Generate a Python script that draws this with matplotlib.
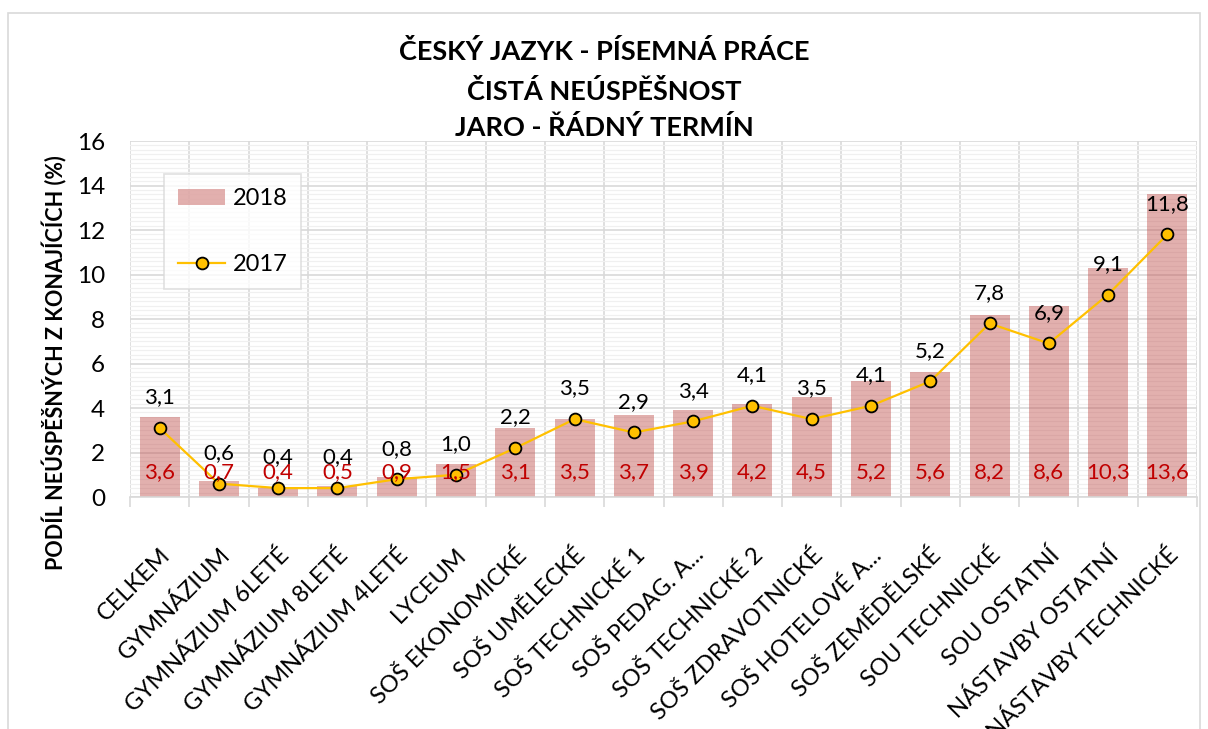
import numpy as np
import matplotlib.pyplot as plt
from matplotlib.patches import Rectangle
from matplotlib.ticker import MultipleLocator

plt.rcParams['font.family'] = ['Lato', 'DejaVu Sans']

categories = ['CELKEM', 'GYMNÁZIUM', 'GYMNÁZIUM 6LETÉ', 'GYMNÁZIUM 8LETÉ',
              'GYMNÁZIUM 4LETÉ', 'LYCEUM', 'SOŠ EKONOMICKÉ', 'SOŠ UMĚLECKÉ',
              'SOŠ TECHNICKÉ 1', 'SOŠ PEDAG. A...', 'SOŠ TECHNICKÉ 2',
              'SOŠ ZDRAVOTNICKÉ', 'SOŠ HOTELOVÉ A...', 'SOŠ ZEMĚDĚLSKÉ',
              'SOU TECHNICKÉ', 'SOU OSTATNÍ', 'NÁSTAVBY OSTATNÍ',
              'NÁSTAVBY TECHNICKÉ']
values_2018 = [3.6, 0.7, 0.4, 0.5, 0.9, 1.5, 3.1, 3.5, 3.7, 3.9, 4.2,
               4.5, 5.2, 5.6, 8.2, 8.6, 10.3, 13.6]
values_2017 = [3.1, 0.6, 0.4, 0.4, 0.8, 1.0, 2.2, 3.5, 2.9, 3.4, 4.1,
               3.5, 4.1, 5.2, 7.8, 6.9, 9.1, 11.8]


def fmt(v):
    return f'{v:.1f}'.replace('.', ',')


fig = plt.figure(figsize=(12.08, 7.29), dpi=100)
# outer chart frame
fig.patches.append(Rectangle((8 / 1208, -0.05), 1192 / 1208, 1 - 13 / 729 + 0.05,
                             transform=fig.transFigure, fill=False,
                             edgecolor='#D9D9D9', linewidth=1.2))

ax = fig.add_axes([130 / 1208, 1 - 497 / 729, 1067 / 1208, 356 / 729])
x = np.arange(len(categories))

ax.bar(x, values_2018, width=0.675, color='#C0504D', alpha=0.45, zorder=2,
       label='2018')
ax.plot(x, values_2017, color='#FFC000', linewidth=1.6, marker='o',
        markersize=8.5, markerfacecolor='#FFC000', markeredgecolor='black',
        markeredgewidth=1.3, zorder=4, label='2017')

for xi, v in zip(x, values_2018):
    ax.text(xi, 1.1, fmt(v), ha='center', va='center', color='#C00000',
            fontsize=16, zorder=5)
for xi, v in zip(x, values_2017):
    ax.annotate(fmt(v), (xi, v), xytext=(0, 22), textcoords='offset points',
                ha='center', va='center', fontsize=16, color='black', zorder=5)

ax.set_xlim(-0.5, len(categories) - 0.5)
ax.set_ylim(0, 16)
ax.yaxis.set_major_locator(MultipleLocator(2))
ax.yaxis.set_minor_locator(MultipleLocator(0.2))
ax.grid(axis='y', which='major', color='#D9D9D9', linewidth=1.2, zorder=0)
ax.grid(axis='y', which='minor', color='#F0F0F0', linewidth=0.9, zorder=0)
for b in np.arange(-0.5, len(categories), 1.0):
    ax.axvline(b, color='#D9D9D9', linewidth=1.2, zorder=0)
ax.tick_params(axis='y', which='both', length=0, labelsize=17.5, pad=18)

ax.set_xticks(np.arange(-0.5, len(categories), 1.0))
ax.set_xticklabels([])
ax.set_xticks(x, minor=True)
ax.set_xticklabels(categories, minor=True, rotation=45, ha='right',
                   rotation_mode='anchor', fontsize=17)
ax.tick_params(axis='x', which='major', length=7, color='#D9D9D9', width=1.2)
ax.tick_params(axis='x', which='minor', length=0, pad=34)

for side in ['top', 'right', 'left']:
    ax.spines[side].set_visible(False)
ax.spines['bottom'].set_color('#D9D9D9')
ax.spines['bottom'].set_linewidth(1.2)

ax.set_ylabel('PODÍL NEÚSPĚŠNÝCH Z KONAJÍCÍCH (%)', fontsize=15.5,
              fontweight='bold')
ax.yaxis.label.set_va('center')
ax.yaxis.set_label_coords(-75 / 1067, (497 - 363) / 356)

fig.text(0.5, 1 - 52 / 729, 'ČESKÝ JAZYK - PÍSEMNÁ PRÁCE', ha='center',
         va='center', fontsize=19.5, fontweight='bold')
fig.text(0.5, 1 - 91 / 729, 'ČISTÁ NEÚSPĚŠNOST', ha='center',
         va='center', fontsize=19.5, fontweight='bold')
fig.text(0.5, 1 - 128 / 729, 'JARO - ŘÁDNÝ TERMÍN', ha='center',
         va='center', fontsize=19.5, fontweight='bold')

handles, labels = ax.get_legend_handles_labels()
order = [labels.index('2018'), labels.index('2017')]
leg = ax.legend([handles[i] for i in order], [labels[i] for i in order],
                loc='upper left', bbox_to_anchor=(34 / 1067, 1 - 33 / 356),
                fontsize=17, frameon=True, fancybox=False, labelspacing=1.9,
                borderpad=0.6, handlelength=2.0, handleheight=0.7,
                handletextpad=0.3, borderaxespad=0)
leg.get_frame().set_edgecolor('#D9D9D9')
leg.get_frame().set_linewidth(1.2)

fig.savefig('out.png', dpi=100)
